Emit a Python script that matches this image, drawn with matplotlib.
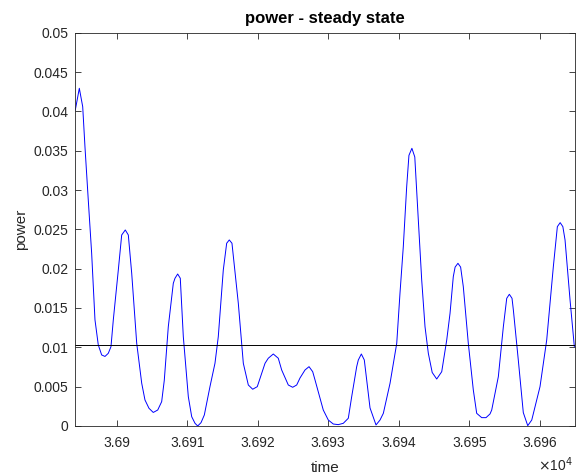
import matplotlib
matplotlib.use("Agg")
import matplotlib.pyplot as plt
from matplotlib.ticker import FixedLocator, FuncFormatter

# ---- data ----
time = [36894.13, 36894.70, 36895.18, 36895.50, 36895.97, 36896.45, 36896.92, 36897.39,
        36897.87, 36898.34, 36898.81, 36899.19, 36899.52, 36900.23, 36900.71, 36901.22,
        36901.65, 36902.13, 36902.84, 36903.55, 36904.01, 36904.58, 36905.19, 36905.82,
        36906.38, 36906.75, 36907.32, 36908.03, 36908.27, 36908.65, 36909.02, 36909.45,
        36910.16, 36910.64, 36911.11, 36911.49, 36911.96, 36912.43, 36913.23, 36913.94,
        36914.41, 36915.12, 36915.60, 36915.97, 36916.35, 36917.25, 36917.96, 36918.67,
        36919.29, 36919.94, 36921.04, 36921.50, 36922.21, 36922.92, 36923.40, 36924.34,
        36924.96, 36925.53, 36926.00, 36926.71, 36927.28, 36927.80, 36928.13, 36929.30,
        36930.01, 36930.72, 36931.43, 36932.14, 36932.85, 36933.33, 36934.04, 36934.27,
        36934.70, 36935.12, 36935.93, 36936.78, 36937.35, 36937.82, 36938.77, 36939.72,
        36940.18, 36940.65, 36941.13, 36941.45, 36941.87, 36942.28, 36942.78, 36943.26,
        36943.73, 36944.20, 36944.75, 36945.39, 36946.10, 36946.81, 36947.28, 36947.74,
        36948.00, 36948.40, 36948.78, 36949.16, 36949.87, 36950.58, 36951.06, 36951.77,
        36952.38, 36952.95, 36953.19, 36954.13, 36954.84, 36955.32, 36955.69, 36956.07,
        36956.26, 36956.96, 36957.67, 36958.30, 36958.87, 36960.04, 36960.99, 36961.93,
        36962.50, 36962.90, 36963.28, 36963.59, 36964.30, 36964.91]
power = [0.04017, 0.04293, 0.04059, 0.03551, 0.02873, 0.02195, 0.01350, 0.01030,
         0.00903, 0.00884, 0.00924, 0.01008, 0.01348, 0.01983, 0.02428, 0.02492,
         0.02428, 0.01941, 0.01051, 0.00543, 0.00331, 0.00225, 0.00172, 0.00203,
         0.00309, 0.00580, 0.01262, 0.01814, 0.01878, 0.01932, 0.01878, 0.01135,
         0.00372, 0.00118, 0.00034, 0.00000, 0.00042, 0.00140, 0.00500, 0.00797,
         0.01135, 0.01983, 0.02323, 0.02365, 0.02323, 0.01560, 0.00797, 0.00521,
         0.00467, 0.00500, 0.00797, 0.00861, 0.00915, 0.00861, 0.00712, 0.00521,
         0.00492, 0.00521, 0.00610, 0.00712, 0.00754, 0.00690, 0.00585, 0.00203,
         0.00076, 0.00025, 0.00017, 0.00034, 0.00098, 0.00372, 0.00754, 0.00839,
         0.00915, 0.00839, 0.00230, 0.00013, 0.00076, 0.00161, 0.00543, 0.01051,
         0.01687, 0.02279, 0.03042, 0.03440, 0.03530, 0.03420, 0.02619, 0.01856,
         0.01262, 0.00924, 0.00680, 0.00597, 0.00690, 0.01093, 0.01433, 0.01898,
         0.02020, 0.02068, 0.02020, 0.01771, 0.01051, 0.00458, 0.00161, 0.00106,
         0.00106, 0.00153, 0.00203, 0.00627, 0.01262, 0.01623, 0.01674, 0.01623,
         0.01475, 0.00839, 0.00170, 0.00004, 0.00076, 0.00500, 0.01093, 0.02025,
         0.02534, 0.02585, 0.02534, 0.02365, 0.01602, 0.01008]
mean_power = 0.0103

x_ticks = [36900, 36910, 36920, 36930, 36940, 36950, 36960]
y_ticks = [0, 0.005, 0.01, 0.015, 0.02, 0.025, 0.03, 0.035, 0.04, 0.045, 0.05]
x_limits = (36894.13, 36965.0)
y_limits = (0, 0.05)

plt.rcParams['font.family'] = ['Liberation Sans', 'DejaVu Sans']
axc = (0.15, 0.15, 0.15)

fig = plt.figure(figsize=(5.77, 4.75), dpi=100)
ax = fig.add_axes([0.1305, 0.1032, 0.8660, 0.828])

ax.plot(time, power, color=(0, 0, 1), lw=0.7)
ax.axhline(mean_power, color='black', lw=0.7)

ax.set_xlim(*x_limits)
ax.set_ylim(*y_limits)
ax.xaxis.set_major_locator(FixedLocator(x_ticks))
ax.yaxis.set_major_locator(FixedLocator(y_ticks))
ax.xaxis.set_major_formatter(FuncFormatter(lambda v, p: '%g' % (v / 1e4)))
ax.yaxis.set_major_formatter(FuncFormatter(lambda v, p: '%g' % v))

ax.tick_params(direction='in', length=4, width=0.6, colors=axc, labelsize=10,
               top=True, right=True, labelcolor=axc)
ax.tick_params(axis='x', pad=7)
ax.tick_params(axis='y', pad=5)
for s in ax.spines.values():
    s.set_color(axc)
    s.set_linewidth(0.6)

ax.set_title('power - steady state', fontsize=12, fontweight='bold', pad=7)
ax.set_xlabel('time', fontsize=11, color=axc, labelpad=8)
ax.set_ylabel('power', fontsize=11, color=axc, labelpad=4)

fig.text(573 / 577, 1 - 471 / 475, r'$\times$10$^{4}$', ha='right', va='baseline',
         fontsize=10, color=axc)

fig.savefig('out.png', dpi=100)
